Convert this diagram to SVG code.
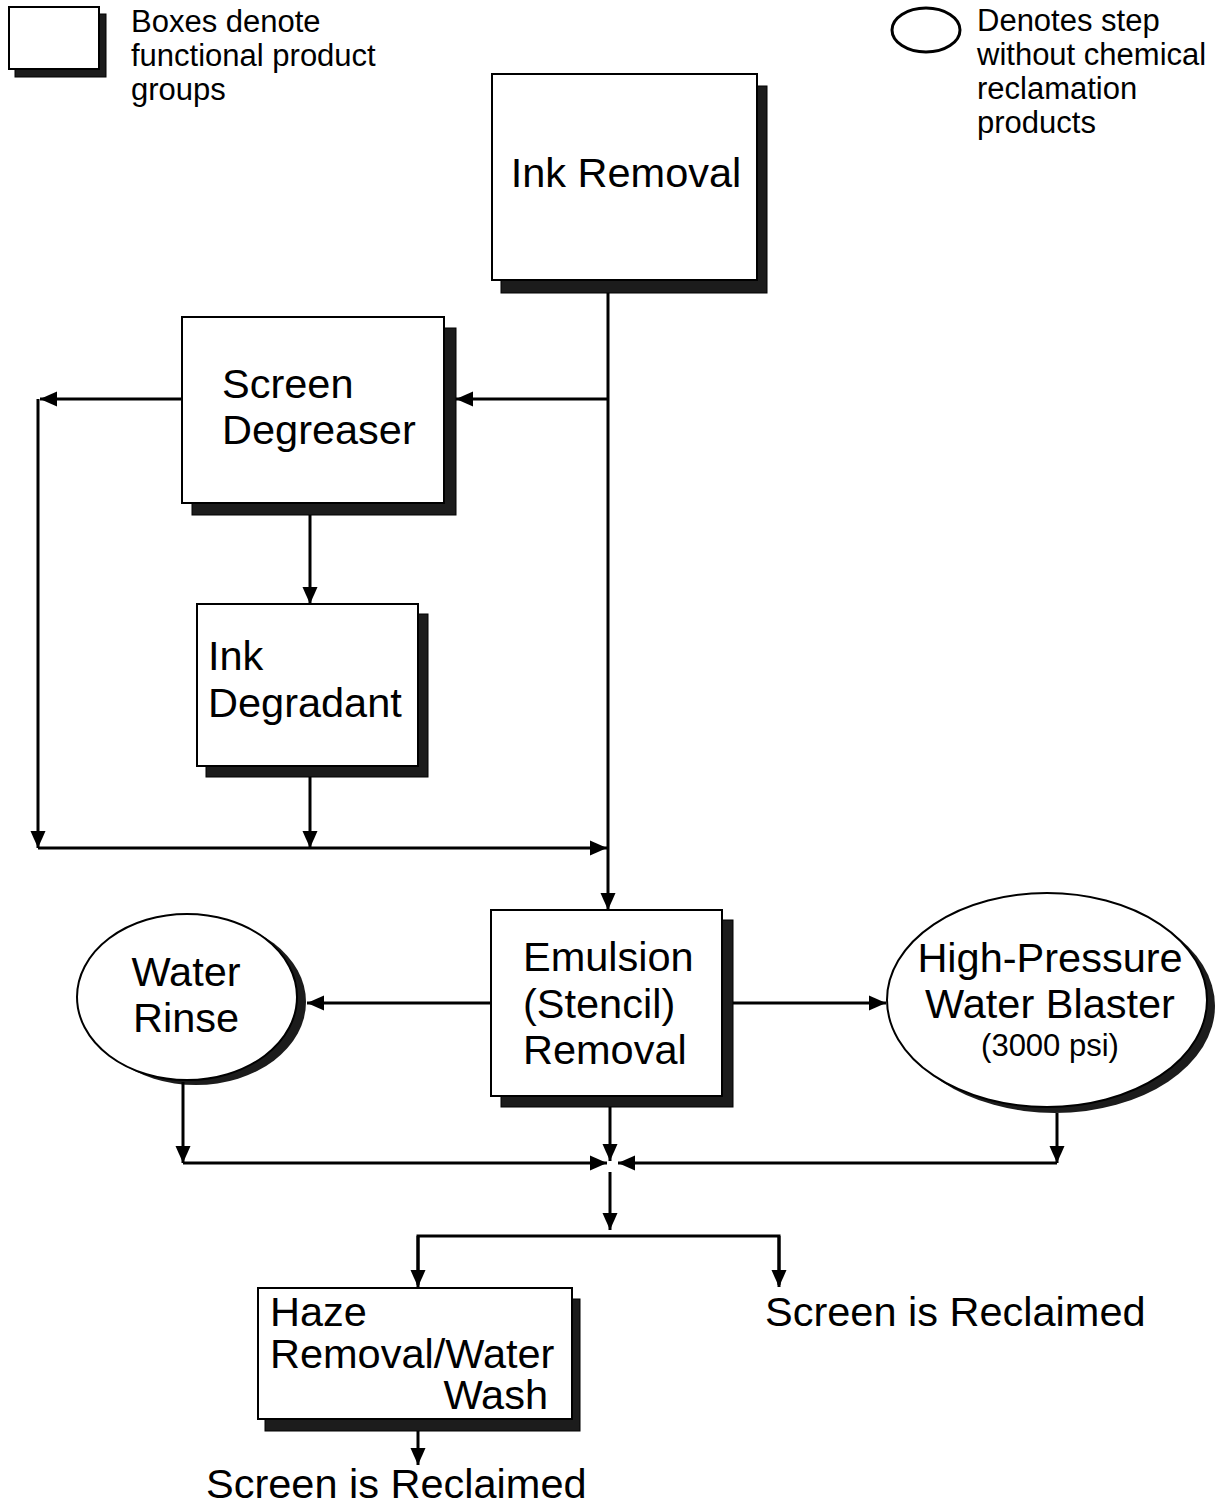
<svg xmlns="http://www.w3.org/2000/svg" width="1220" height="1505" viewBox="0 0 1220 1505">
<style>
text{font-family:"Liberation Sans",Arial,sans-serif;fill:#000}
.lg{font-size:31px}
.big{font-size:41.5px}
.sm{font-size:31px}
.box{fill:#fff;stroke:#000;stroke-width:2}
.sh{fill:#1c1c1c;stroke:#000;stroke-width:1}
.ln{fill:none;stroke:#000;stroke-width:3}
.ar{fill:none;stroke:#000;stroke-width:3;marker-end:url(#ah)}
</style>
<defs>
<marker id="ah" markerUnits="userSpaceOnUse" markerWidth="18" markerHeight="16" refX="17" refY="8" orient="auto">
<path d="M0,0.5 L17,8 L0,15.5 z" fill="#000"/>
</marker>
</defs>
<rect width="1220" height="1505" fill="#fff"/>

<g id="legend-box">
<rect class="sh" x="15" y="14" width="91" height="63"/>
<rect class="box" x="9" y="7" width="90" height="62"/>
<text class="lg" x="131" y="32">Boxes denote</text>
<text class="lg" x="131" y="66">functional product</text>
<text class="lg" x="131" y="100">groups</text>
</g>

<g id="legend-ellipse">
<ellipse cx="926" cy="30" rx="34" ry="22" fill="#fff" stroke="#000" stroke-width="3"/>
<text class="lg" x="977" y="31">Denotes step</text>
<text class="lg" x="977" y="65">without chemical</text>
<text class="lg" x="977" y="99">reclamation</text>
<text class="lg" x="977" y="133">products</text>
</g>

<g id="ink-removal">
<rect class="sh" x="501" y="86" width="266" height="207"/>
<rect class="box" x="492" y="74" width="265" height="206"/>
<text class="big" x="626" y="187" text-anchor="middle">Ink Removal</text>
</g>

<g id="screen-degreaser">
<rect class="sh" x="192" y="328" width="264" height="187"/>
<rect class="box" x="182" y="317" width="262" height="186"/>
<text class="big" x="222" y="398">Screen</text>
<text class="big" x="222" y="444">Degreaser</text>
</g>

<g id="ink-degradant">
<rect class="sh" x="206" y="614" width="222" height="163"/>
<rect class="box" x="197" y="604" width="221" height="162"/>
<text class="big" x="208" y="670">Ink</text>
<text class="big" x="208" y="717">Degradant</text>
</g>

<g id="emulsion-removal">
<rect class="sh" x="501" y="920" width="232" height="187"/>
<rect class="box" x="491" y="910" width="231" height="186"/>
<text class="big" x="523" y="971">Emulsion</text>
<text class="big" x="523" y="1018">(Stencil)</text>
<text class="big" x="523" y="1064">Removal</text>
</g>

<g id="water-rinse">
<ellipse cx="196" cy="1002" rx="110" ry="83" fill="#1c1c1c"/>
<ellipse cx="187" cy="997" rx="110" ry="83" fill="#fff" stroke="#000" stroke-width="2"/>
<text class="big" x="186" y="986" text-anchor="middle">Water</text>
<text class="big" x="186" y="1032" text-anchor="middle">Rinse</text>
</g>

<g id="high-pressure">
<ellipse cx="1055" cy="1006" rx="160" ry="107" fill="#1c1c1c"/>
<ellipse cx="1047" cy="1000" rx="160" ry="107" fill="#fff" stroke="#000" stroke-width="2"/>
<text class="big" x="1050" y="972" text-anchor="middle">High-Pressure</text>
<text class="big" x="1050" y="1018" text-anchor="middle">Water Blaster</text>
<text class="sm" x="1050" y="1056" text-anchor="middle">(3000 psi)</text>
</g>

<g id="haze-removal">
<rect class="sh" x="265" y="1299" width="315" height="132"/>
<rect class="box" x="258" y="1288" width="314" height="131"/>
<text class="big" x="270" y="1326">Haze</text>
<text class="big" x="270" y="1368">Removal/Water</text>
<text class="big" x="548" y="1409" text-anchor="end">Wash</text>
</g>

<g id="reclaimed-right">
<text class="big" x="765" y="1326">Screen is Reclaimed</text>
</g>
<g id="reclaimed-bottom">
<text class="big" x="206" y="1498">Screen is Reclaimed</text>
</g>

<g id="connectors">
<path class="ar" d="M608,293 V910"/>
<path class="ar" d="M608,399 H456"/>
<path class="ar" d="M182,399 H40"/>
<path class="ar" d="M38,399 V848"/>
<path class="ar" d="M310,515 V604"/>
<path class="ar" d="M310,777 V848"/>
<path class="ar" d="M38,848 H607"/>
<path class="ar" d="M491,1003 H307"/>
<path class="ar" d="M733,1003 H886"/>
<path class="ar" d="M183,1082 V1163"/>
<path class="ar" d="M183,1163 H607"/>
<path class="ar" d="M610,1107 V1161"/>
<path class="ar" d="M1057,1113 V1163"/>
<path class="ar" d="M1057,1163 H618"/>
<path class="ar" d="M610,1172 V1230"/>
<path class="ln" d="M418,1285 V1236 H779 V1285"/>
<path class="ar" d="M418,1236 V1287"/>
<path class="ar" d="M779,1236 V1287"/>
<path class="ar" d="M418,1431 V1465"/>
</g>
</svg>
